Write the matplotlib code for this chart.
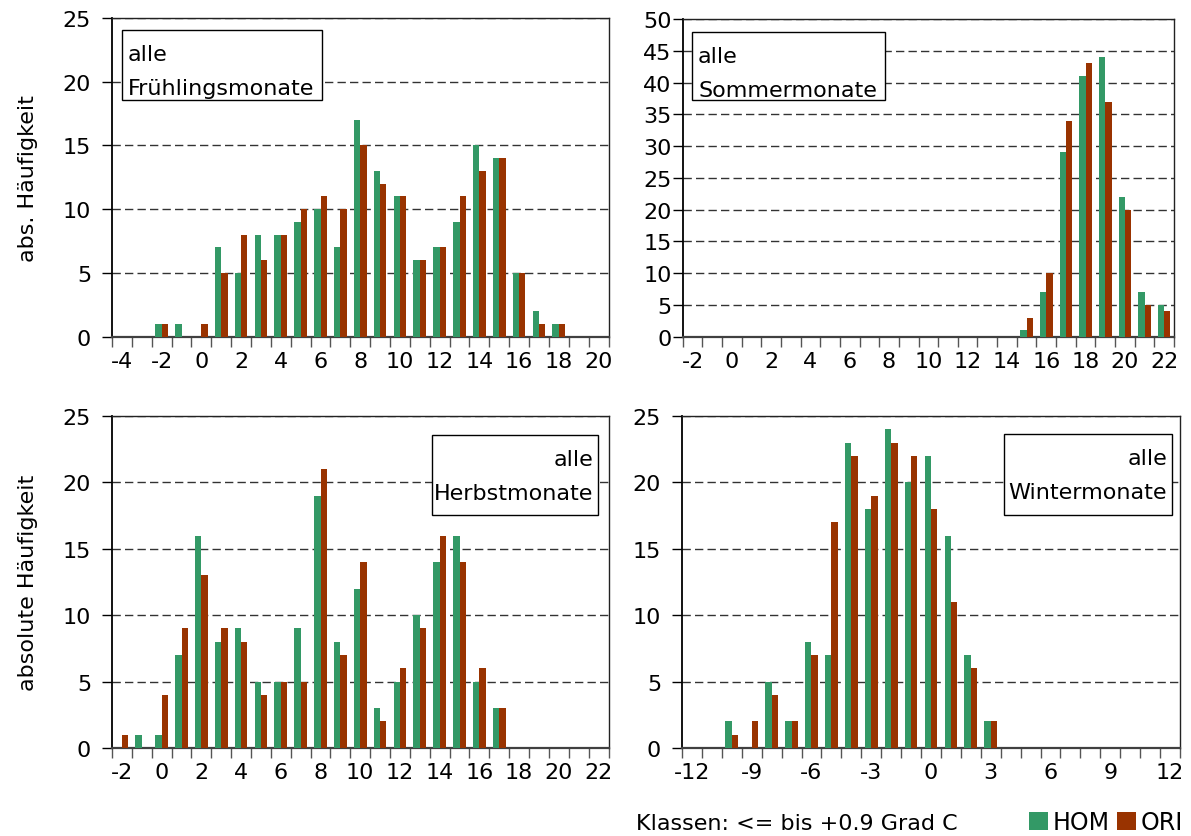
import matplotlib

matplotlib.use("Agg")
import matplotlib.pyplot as plt
from matplotlib.patches import Rectangle
import numpy as np

plt.rcParams["font.family"] = ["DejaVu Sans"]
plt.rcParams["font.size"] = 16

GREEN = "#339966"
ORANGE = "#993300"

# Klassen (Grad C) und Häufigkeiten je Jahreszeit
spring_classes = list(range(-4, 21))
spring_hom = [0, 0, 1, 1, 0, 7, 5, 8, 8, 9, 10, 7, 17, 13, 11, 6, 7, 9, 15, 14, 5, 2, 1, 0, 0]
spring_ori = [0, 0, 1, 0, 1, 5, 8, 6, 8, 10, 11, 10, 15, 12, 11, 6, 7, 11, 13, 14, 5, 1, 1, 0, 0]

summer_classes = list(range(-2, 23))
summer_hom = [0] * 17 + [1, 7, 29, 41, 44, 22, 7, 5]
summer_ori = [0] * 17 + [3, 10, 34, 43, 37, 20, 5, 4]

autumn_classes = list(range(-2, 23))
autumn_hom = [0, 1, 1, 7, 16, 8, 9, 5, 5, 9, 19, 8, 12, 3, 5, 10, 14, 16, 5, 3, 0, 0, 0, 0, 0]
autumn_ori = [1, 0, 4, 9, 13, 9, 8, 4, 5, 5, 21, 7, 14, 2, 6, 9, 16, 14, 6, 3, 0, 0, 0, 0, 0]

winter_classes = list(range(-12, 13))
winter_hom = [0, 0, 2, 0, 5, 2, 8, 7, 23, 18, 24, 20, 22, 16, 7, 2, 0, 0, 0, 0, 0, 0, 0, 0, 0]
winter_ori = [0, 0, 1, 2, 4, 2, 7, 17, 22, 19, 23, 22, 18, 11, 6, 2, 0, 0, 0, 0, 0, 0, 0, 0, 0]

W, H = 1191, 837


def axes_px(fig, x0, y0, x1, y1):
    """axes from pixel box (top-left origin)"""
    return fig.add_axes([x0 / W, 1 - y1 / H, (x1 - x0) / W, (y1 - y0) / H])


def label_box(fig, x0, y0, x1, y1, lines, align):
    fig.patches.append(Rectangle((x0 / W, 1 - y1 / H), (x1 - x0) / W, (y1 - y0) / H,
                                 transform=fig.transFigure, fc="white",
                                 ec="black", lw=1.0))
    tx = (x0 + 6) / W if align == "left" else (x1 - 5) / W
    fig.text(tx, 1 - (y0 + 30) / H, lines[0], ha=align, va="baseline")
    fig.text(tx, 1 - (y0 + 64) / H, lines[1], ha=align, va="baseline")


def draw_panel(ax, classes, hom, ori, ymax, step, ypad=8):
    x = np.array(classes)
    w = 0.32
    b1 = ax.bar(x - w / 2, hom, width=w, color=GREEN, label="HOM", zorder=3)
    b2 = ax.bar(x + w / 2, ori, width=w, color=ORANGE, label="ORI", zorder=3)
    ax.set_xlim(x[0] - 0.5, x[-1] + 0.5)
    ax.set_ylim(0, ymax)
    ax.set_xticks(np.arange(x[0] - 0.5, x[-1] + 1, 1))
    ax.set_xticklabels([])
    ax.set_xticks(x[::step], minor=True)
    ax.set_xticklabels([str(v) for v in x[::step]], minor=True)
    ax.tick_params(axis="x", which="major", length=7, width=1, color="#555555")
    ax.tick_params(axis="x", which="minor", length=0, pad=10)
    ax.set_yticks(range(0, ymax + 1, 5))
    ax.tick_params(axis="y", length=7, width=1, pad=ypad)
    ax.yaxis.grid(True, linestyle=(0, (6, 3)), color="#333333", lw=1.0, zorder=1)
    for s in ("top", "right"):
        ax.spines[s].set_linewidth(1.0)
        ax.spines[s].set_color("#222222")
    ax.spines["left"].set_linewidth(1.3)
    ax.spines["bottom"].set_linewidth(1.6)
    ax.spines["bottom"].set_color("#404040")
    return b1, b2


fig = plt.figure(figsize=(W / 100, H / 100), dpi=100)

ax1 = axes_px(fig, 112, 19, 608.5, 337.7)
draw_panel(ax1, spring_classes, spring_hom, spring_ori, 25, 2)
ax1.set_ylabel("abs. Häufigkeit", labelpad=18)

ax2 = axes_px(fig, 682.7, 20, 1174, 337.7)
draw_panel(ax2, summer_classes, summer_hom, summer_ori, 50, 2, ypad=1)

ax3 = axes_px(fig, 112, 417, 608.5, 749)
draw_panel(ax3, autumn_classes, autumn_hom, autumn_ori, 25, 2)
ax3.set_ylabel("absolute Häufigkeit", labelpad=18)

ax4 = axes_px(fig, 682, 417, 1180, 749)
h_hom, h_ori = draw_panel(ax4, winter_classes, winter_hom, winter_ori, 25, 3)

label_box(fig, 122, 31, 322, 101, ["alle", "Frühlingsmonate"], "left")
label_box(fig, 692, 33, 885, 101, ["alle", "Sommermonate"], "left")
label_box(fig, 432, 436, 598, 516, ["alle", "Herbstmonate"], "right")
label_box(fig, 1004, 435, 1172, 516, ["alle", "Wintermonate"], "right")

fig.text(636 / W, 1 - 830 / H, "Klassen: <= bis +0.9 Grad C", ha="left", va="baseline")
fig.legend(handles=[h_hom, h_ori], labels=["HOM", "ORI"], ncol=2, frameon=False,
           loc="center right", bbox_to_anchor=(1183 / W, 1 - 823 / H),
           handlelength=0.8, handleheight=0.8, handletextpad=0.2,
           columnspacing=0.3, borderpad=0, borderaxespad=0, fontsize=17)

fig.savefig("out.png", dpi=100)
